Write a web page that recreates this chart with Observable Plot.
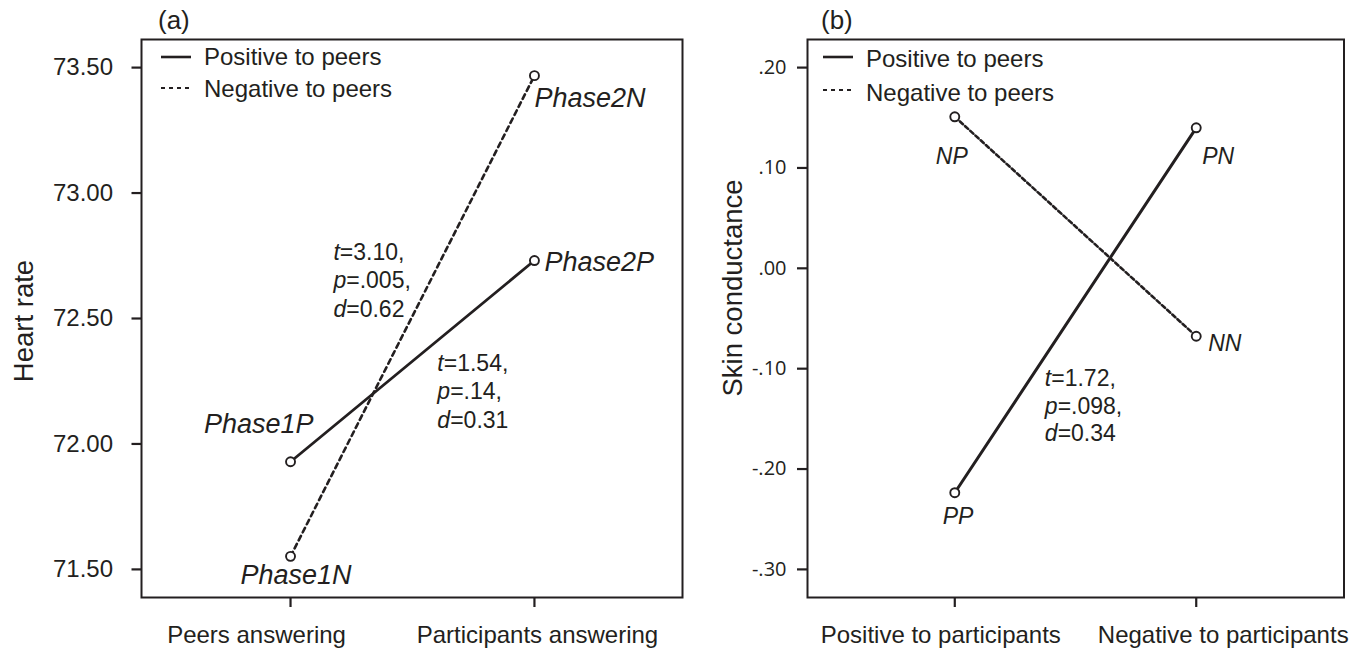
<!DOCTYPE html>
<html>
<head>
<meta charset="utf-8">
<script src="https://cdn.jsdelivr.net/npm/d3@7"></script>
<script src="https://cdn.jsdelivr.net/npm/@observablehq/plot@0.6"></script>
<style>
  html, body { margin: 0; padding: 0; background: #ffffff; }
  #wrap { position: relative; width: 1360px; height: 649px; overflow: hidden; background: #ffffff; }
  #panelA, #panelB { position: absolute; top: 0; }
  #panelA { left: 0px; }
  #panelB { left: 680px; }
</style>
</head>
<body>
<div id="wrap"><div id="panelA"></div><div id="panelB"></div></div>
<script>
// ---------- data ----------
const seriesNames = ["Positive to peers", "Negative to peers"];

// Panel (a): heart rate
const conditionsA = ["Peers answering", "Participants answering"];
const heartPositive = [71.929, 72.731];
const heartNegative = [71.552, 73.468];
const heartPositiveLabels = ["Phase1P", "Phase2P"];
const heartNegativeLabels = ["Phase1N", "Phase2N"];
const heartTicks = [71.5, 72.0, 72.5, 73.0, 73.5];
const heartStats = [
  "t=3.10,\np=.005,\nd=0.62",
  "t=1.54,\np=.14,\nd=0.31"
];

// Panel (b): skin conductance
const conditionsB = ["Positive to participants", "Negative to participants"];
const skinPositive = [-0.2236, 0.140];
const skinNegative = [0.151, -0.0677];
const skinPositiveLabels = ["PP", "PN"];
const skinNegativeLabels = ["NP", "NN"];
const skinTicks = [-0.30, -0.20, -0.10, 0.00, 0.10, 0.20];
const skinStats = ["t=1.72,\np=.098,\nd=0.34"];

// ---------- styling / layout ----------
const ink = "#231f20";
const sans = "'Liberation Sans', Arial, Helvetica, sans-serif";

function rows(values, labels, series) {
  return values.map((v, i) => ({x: i, y: v, label: labels[i], series}));
}

function labelMarks(data, offsets, size) {
  return data.map((d, i) => Plot.text([d], {
    x: "x", y: "y", text: "label",
    dx: offsets[i][0], dy: offsets[i][1], textAnchor: offsets[i][2],
    fontSize: size, fontStyle: "italic", fill: ink, fontFamily: sans
  }));
}

function xLabelMarks(names, shifts) {
  return names.map((n, i) => Plot.text([i], {
    x: d => d, text: d => names[d], frameAnchor: "bottom",
    dx: shifts[i], dy: 28, lineAnchor: "top",
    fontSize: 24, fill: ink, fontFamily: sans
  }));
}

function decorate(svg, opts) {
  const s = d3.select(svg);
  // italic statistic letters
  s.selectAll("tspan").each(function () {
    const t = this.textContent;
    if (/^[tpd]=/.test(t)) {
      this.textContent = "";
      d3.select(this).append("tspan").attr("font-style", "italic").text(t[0]);
      this.appendChild(document.createTextNode(t.slice(1)));
    }
  });
  const g = s.append("g").attr("fill", ink).attr("font-family", sans);
  // panel letter
  g.append("text").attr("x", opts.letterX).attr("y", 29).attr("font-size", 26)
    .attr("text-anchor", "start").text(opts.letter);
  // axis title
  g.append("text").attr("transform", `translate(${opts.titleX},${opts.titleY}) rotate(-90)`)
    .attr("text-anchor", "middle").attr("font-size", 27.5).text(opts.title);
  // legend
  const lg = s.append("g");
  seriesNames.forEach((name, i) => {
    lg.append("line").attr("x1", opts.legX).attr("x2", opts.legX + 30)
      .attr("y1", opts.legLineY[i]).attr("y2", opts.legLineY[i])
      .attr("stroke", ink).attr("stroke-width", i === 0 ? 2.6 : 2.2)
      .attr("stroke-dasharray", i === 0 ? null : "4,4");
    lg.append("text").attr("x", opts.legTextX).attr("y", opts.legBase[i])
      .attr("text-anchor", "start")
      .attr("font-size", 24).attr("font-family", sans).attr("fill", ink).text(name);
  });
}

// ---------- panel (a) ----------
const posA = rows(heartPositive, heartPositiveLabels, seriesNames[0]);
const negA = rows(heartNegative, heartNegativeLabels, seriesNames[1]);
const statsA = [
  {x: 0.176, y: 72.657, text: heartStats[0]},
  {x: 0.602, y: 72.215, text: heartStats[1]}
];

const plotA = Plot.plot({
  width: 684, height: 649,
  marginLeft: 141, marginRight: 2, marginTop: 39, marginBottom: 52,
  style: {fontFamily: sans, background: "transparent", color: ink, overflow: "visible"},
  x: {domain: [-0.611, 1.607]},
  y: {domain: [71.388, 73.612]},
  marks: [
    Plot.frame({stroke: ink, strokeWidth: 2}),
    Plot.axisY({ticks: heartTicks, tickSize: 9.5, tickPadding: 19, tickFormat: d3.format(".2f"),
                fontSize: 24, label: null, stroke: ink, strokeWidth: 2.2, fill: ink}),
    Plot.axisX({ticks: [0, 1], tickSize: 10, tickFormat: () => "", label: null, stroke: ink, strokeWidth: 2.2}),
    ...xLabelMarks(conditionsA, [-34, 3]),
    Plot.line(negA, {x: "x", y: "y", stroke: ink, strokeWidth: 2.6, strokeDasharray: "5,4"}),
    Plot.line(posA, {x: "x", y: "y", stroke: ink, strokeWidth: 2.8}),
    Plot.dot([...posA, ...negA], {x: "x", y: "y", r: 4.5, stroke: ink, strokeWidth: 1.9, fill: "white"}),
    ...labelMarks(posA, [[23, -37, "end"], [10, 2, "start"]], 27),
    ...labelMarks(negA, [[-50, 19, "start"], [0, 23, "start"]], 27),
    Plot.text(statsA, {x: "x", y: "y", text: "text", textAnchor: "start", lineHeight: 1.24,
                       fontSize: 23, fill: ink, fontFamily: sans})
  ]
});
document.getElementById("panelA").appendChild(plotA);
decorate(plotA, {letter: "(a)", letterX: 158, title: "Heart rate", titleX: 33, titleY: 321,
                 legX: 161, legTextX: 204, legLineY: [57, 88], legBase: [65, 97]});

// ---------- panel (b) ----------
const posB = rows(skinPositive, skinPositiveLabels, seriesNames[0]);
const negB = rows(skinNegative, skinNegativeLabels, seriesNames[1]);
const statsB = [{x: 0.373, y: -0.136, text: skinStats[0]}];
const fmtB = d => (d < 0 ? "-" : "") + Math.abs(d).toFixed(2).replace(/^0/, "");

const plotB = Plot.plot({
  width: 680, height: 649,
  marginLeft: 127, marginRight: 16.5, marginTop: 39, marginBottom: 52,
  style: {fontFamily: sans, background: "transparent", color: ink, overflow: "visible"},
  x: {domain: [-0.610, 1.612]},
  y: {domain: [-0.328, 0.228]},
  marks: [
    Plot.frame({stroke: ink, strokeWidth: 2}),
    Plot.axisY({ticks: skinTicks, tickSize: 10, tickPadding: 11, tickFormat: fmtB,
                fontSize: 20, fontFamily: "'Open Sans', sans-serif", label: null,
                stroke: ink, strokeWidth: 2.2, fill: ink}),
    Plot.axisX({ticks: [0, 1], tickSize: 10, tickFormat: () => "", label: null, stroke: ink, strokeWidth: 2.2}),
    ...xLabelMarks(conditionsB, [-14, 27]),
    Plot.line(negB, {x: "x", y: "y", stroke: "#b5b5b5", strokeWidth: 1.2}),
    Plot.line(negB, {x: "x", y: "y", stroke: ink, strokeWidth: 2.6, strokeDasharray: "4,3"}),
    Plot.line(posB, {x: "x", y: "y", stroke: ink, strokeWidth: 3}),
    Plot.dot([...posB, ...negB], {x: "x", y: "y", r: 4.5, stroke: ink, strokeWidth: 1.9, fill: "white"}),
    ...labelMarks(posB, [[-12, 24, "start"], [6, 29, "start"]], 23),
    ...labelMarks(negB, [[-19, 40, "start"], [12, 7, "start"]], 23),
    Plot.text(statsB, {x: "x", y: "y", text: "text", textAnchor: "start", lineHeight: 1.2,
                       fontSize: 23, fill: ink, fontFamily: sans})
  ]
});
document.getElementById("panelB").appendChild(plotB);
decorate(plotB, {letter: "(b)", letterX: 141, title: "Skin conductance", titleX: 62, titleY: 288,
                 legX: 143, legTextX: 186, legLineY: [57, 90], legBase: [67, 101]});
</script>
</body>
</html>
